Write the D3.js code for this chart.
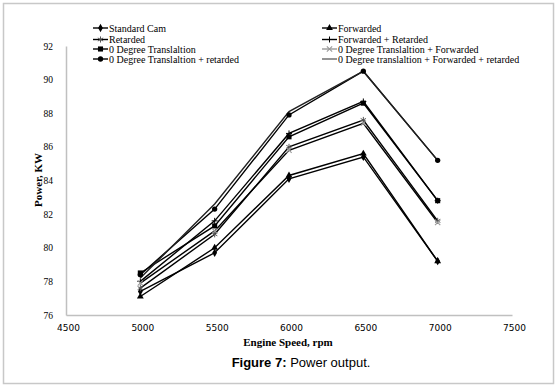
<!DOCTYPE html>
<html>
<head>
<meta charset="utf-8">
<script src="https://cdn.jsdelivr.net/npm/d3@7"></script>
<style>
  body { margin: 0; background: #fff; }
  svg { display: block; }
</style>
</head>
<body>
<div id="chart"></div>
<script>
// Engine speeds (rpm)
const speeds = [5000, 5500, 6000, 6500, 7000];

// Power (kW) per configuration
const standardCam = [77.4, 79.7, 84.1, 85.4, 79.2];
const forwarded = [77.1, 80.0, 84.3, 85.6, 79.2];
const retarded = [77.6, 80.8, 86.0, 87.6, 81.6];
const forwardedRetarded = [78.0, 81.6, 86.8, 88.7, 82.8];
const zeroDeg = [78.5, 81.3, 86.6, 88.6, 82.8];
const zeroDegForwarded = [77.9, 81.0, 85.8, 87.4, 81.5];
const zeroDegRetarded = [78.4, 82.3, 87.9, 90.5, 85.2];
const zeroDegFwdRet = [78.2, 82.6, 88.1, 90.5, 85.2];

const seriesNames = ["Standard Cam", "Forwarded", "Retarded", "Forwarded + Retarded",
  "0 Degree Translaltion", "0 Degree Translaltion + Forwarded",
  "0 Degree Translaltion + retarded", "0 Degree translaltion + Forwarded + retarded"];
const seriesValues = [standardCam, forwarded, retarded, forwardedRetarded,
  zeroDeg, zeroDegForwarded, zeroDegRetarded, zeroDegFwdRet];
const markers = ["diamond", "triangle", "star", "plus", "square", "cross", "circle", "none"];
const lineColors = ["#000", "#000", "#000", "#000", "#000", "#000", "#000", "#222"];

const xTicks = [4500, 5000, 5500, 6000, 6500, 7000, 7500];
const yTicks = [76, 78, 80, 82, 84, 86, 88, 90, 92];

const W = 558, H = 387;
const svg = d3.select("#chart").append("svg")
    .attr("width", W)
    .attr("height", H);

// outer frame
svg.append("rect")
    .attr("x", 3.5).attr("y", 3.5)
    .attr("width", 550).attr("height", 380)
    .attr("fill", "none")
    .attr("stroke", "#c8c8c8")
    .attr("stroke-width", 1.5);

const x = d3.scaleLinear().domain([4500, 7500]).range([66, 512]);
const y = d3.scaleLinear().domain([76, 92]).range([315, 46]);

// axes
svg.append("g")
    .attr("transform", "translate(0,315)")
    .call(d3.axisBottom(x).tickValues(xTicks).tickSize(0).tickPadding(10).tickFormat(d3.format("d")))
    .call(g => g.select(".domain").attr("stroke", "#c0c0c0").attr("stroke-width", 1.5))
    .selectAll("text")
    .attr("dx", 2)
    .style("font-family", "'DejaVu Sans', Tahoma, sans-serif")
    .style("font-size", "9px")
    .attr("fill", "#000");

svg.append("g")
    .attr("transform", "translate(66,0)")
    .call(d3.axisLeft(y).tickValues(yTicks).tickSize(0).tickPadding(13))
    .call(g => g.select(".domain").attr("stroke", "#c0c0c0").attr("stroke-width", 1.5))
    .selectAll("text")
    .style("font-family", "'Liberation Serif', 'Times New Roman', serif")
    .style("font-size", "9.5px")
    .attr("fill", "#000");

// axis titles
svg.append("text")
    .attr("transform", "translate(42,180) rotate(-90)")
    .attr("text-anchor", "middle")
    .style("font-family", "'Liberation Serif', 'Times New Roman', serif")
    .style("font-size", "11px")
    .style("font-weight", "bold")
    .text("Power, KW");

svg.append("text")
    .attr("x", 288).attr("y", 346)
    .attr("text-anchor", "middle")
    .style("font-family", "'Liberation Serif', 'Times New Roman', serif")
    .style("font-size", "11px")
    .style("font-weight", "bold")
    .text("Engine Speed, rpm");

// caption
const cap = svg.append("text")
    .attr("x", 301).attr("y", 367)
    .attr("text-anchor", "middle")
    .style("font-family", "'Liberation Sans', Arial, sans-serif")
    .style("font-size", "13px");
cap.append("tspan").style("font-weight", "bold").text("Figure 7:");
cap.append("tspan").text(" Power output.");

// marker drawing
function drawMarker(g, type, cx, cy, color) {
  if (type === "none") return;
  if (type === "diamond") {
    g.append("path").attr("d", d3.symbol(d3.symbolDiamond, 20)()).attr("transform", `translate(${cx},${cy})`).attr("fill", color);
  } else if (type === "triangle") {
    g.append("path").attr("d", d3.symbol(d3.symbolTriangle, 20)()).attr("transform", `translate(${cx},${cy})`).attr("fill", color);
  } else if (type === "square") {
    g.append("path").attr("d", d3.symbol(d3.symbolSquare, 26)()).attr("transform", `translate(${cx},${cy})`).attr("fill", color);
  } else if (type === "circle") {
    g.append("path").attr("d", d3.symbol(d3.symbolCircle, 22)()).attr("transform", `translate(${cx},${cy})`).attr("fill", color);
  } else if (type === "star") {
    g.append("path").attr("d", d3.symbol(d3.symbolAsterisk, 26)()).attr("transform", `translate(${cx},${cy})`)
      .attr("fill", "none").attr("stroke", "#555").attr("stroke-width", 1);
  } else if (type === "plus") {
    g.append("path").attr("d", `M${cx - 3},${cy}H${cx + 3}M${cx},${cy - 3}V${cy + 3}`)
      .attr("stroke", color).attr("stroke-width", 1);
  } else if (type === "cross") {
    g.append("path").attr("d", d3.symbol(d3.symbolTimes, 20)()).attr("transform", `translate(${cx},${cy})`)
      .attr("fill", "none").attr("stroke", "#999").attr("stroke-width", 1.1);
  }
}

const line = d3.line()
    .x((d, i) => x(speeds[i]))
    .y(d => y(d));

const plot = svg.append("g");
seriesValues.forEach((vals, k) => {
  plot.append("path")
      .datum(vals)
      .attr("fill", "none")
      .attr("stroke", lineColors[k])
      .attr("stroke-width", 1.4)
      .attr("d", line);
});
seriesValues.forEach((vals, k) => {
  vals.forEach((v, i) => drawMarker(plot, markers[k], x(speeds[i]), y(v), "#000"));
});

// legend
const legendRows = [28, 39.5, 49, 59];
const legend = svg.append("g");
seriesNames.forEach((name, k) => {
  const col = k % 2;
  const row = Math.floor(k / 2);
  const lx = col === 0 ? 93 : 322;
  const ly = legendRows[row];
  const lg = legend.append("g");
  lg.append("line")
      .attr("x1", lx).attr("x2", lx + 15)
      .attr("y1", ly).attr("y2", ly)
      .attr("stroke", k === 5 ? "#999" : (k === 7 ? "#666" : lineColors[k]))
      .attr("stroke-width", 1.4);
  drawMarker(lg, markers[k], lx + 7.5, ly, "#000");
  lg.append("text")
      .attr("x", lx + 16).attr("y", ly + 3.5)
      .style("font-family", "'Liberation Serif', 'Times New Roman', serif")
      .style("font-size", "10px")
      .text(name);
});
</script>
</body>
</html>
